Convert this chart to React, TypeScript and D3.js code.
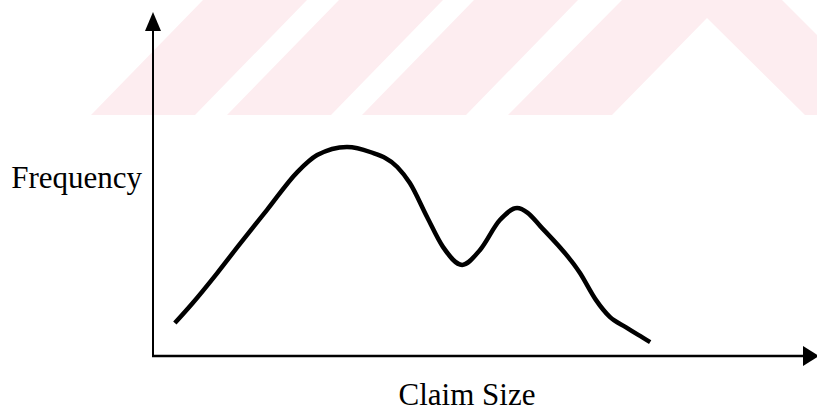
import React from "react";
import * as d3 from "d3";

// Claim size (x) and frequency (y), in arbitrary 0-100 units
const claimSize = [3.3, 6.0, 9.7, 13.1, 17.2, 21.8, 24.8, 29.3, 32.8, 36.9, 38.8, 41.4, 43.8, 46.7, 49.4, 52.4, 55.0, 56.6, 58.5, 64.5, 66.9, 69.0, 71.4, 73.3, 75.1];
const frequency = [9.7, 15.6, 24.4, 32.9, 42.9, 54.1, 59.1, 61.5, 60.0, 55.6, 50.9, 40.9, 32.1, 26.8, 31.2, 40.0, 43.5, 42.1, 38.2, 24.4, 16.5, 11.5, 8.5, 6.2, 4.1];

const xLabel = "Claim Size";
const yLabel = "Frequency";

const W = 817;
const H = 413;

export default function App() {
  const x = d3.scaleLinear().domain([0, 100]).range([153, 815]);
  const y = d3.scaleLinear().domain([0, 100]).range([356, 16]);

  const pts: [number, number][] = claimSize.map((c, i) => [c, frequency[i]]);
  const line = d3
    .line<[number, number]>()
    .x((d) => x(d[0]))
    .y((d) => y(d[1]))
    .curve(d3.curveMonotoneX);

  const x0 = x(0);
  const y0 = y(0);

  // decorative watermark stripes
  const bandBottom = 115;
  const shift = 112;
  const stripeW = 104;
  const stripes = [91, 227, 362].map((bx) =>
    [
      [bx, bandBottom],
      [bx + stripeW, bandBottom],
      [bx + stripeW + shift, 0],
      [bx + shift, 0],
    ]
      .map((p) => p.join(","))
      .join(" ")
  );
  const roof = [
    [508, bandBottom],
    [622, 0],
    [782, 0],
    [897, bandBottom],
    [805, bandBottom],
    [707, 18],
    [612, bandBottom],
  ]
    .map((p) => p.join(","))
    .join(" ");

  const serif = "'Liberation Serif', 'Times New Roman', Times, serif";

  return (
    <svg
      width={W}
      height={H}
      style={{ position: "absolute", left: 0, top: 0, background: "#fff" }}
    >
      <rect x={0} y={0} width={W} height={H} fill="#fff" />
      <g fill="#fdedf0">
        {stripes.map((s, i) => (
          <polygon key={i} points={s} />
        ))}
        <polygon points={roof} />
      </g>

      {/* y axis */}
      <line x1={x0} y1={y0 + 1} x2={x0} y2={28} stroke="#000" strokeWidth={2} />
      <polygon points={`${x0},12 ${x0 - 8},31 ${x0 + 8},31`} fill="#000" />
      {/* x axis */}
      <line x1={x0 - 1} y1={y0} x2={806} y2={y0} stroke="#000" strokeWidth={2.5} />
      <polygon points={`${819},${y0} ${803},${y0 - 10} ${803},${y0 + 10}`} fill="#000" />

      <path
        d={line(pts) || ""}
        fill="none"
        stroke="#000"
        strokeWidth={4.5}
        strokeLinecap="butt"
        strokeLinejoin="round"
      />

      <text
        x={142}
        y={188}
        textAnchor="end"
        fontFamily={serif}
        fontSize={31}
        fill="#000"
      >
        {yLabel}
      </text>
      <text
        x={467}
        y={405}
        textAnchor="middle"
        fontFamily={serif}
        fontSize={31}
        fill="#000"
      >
        {xLabel}
      </text>
    </svg>
  );
}
